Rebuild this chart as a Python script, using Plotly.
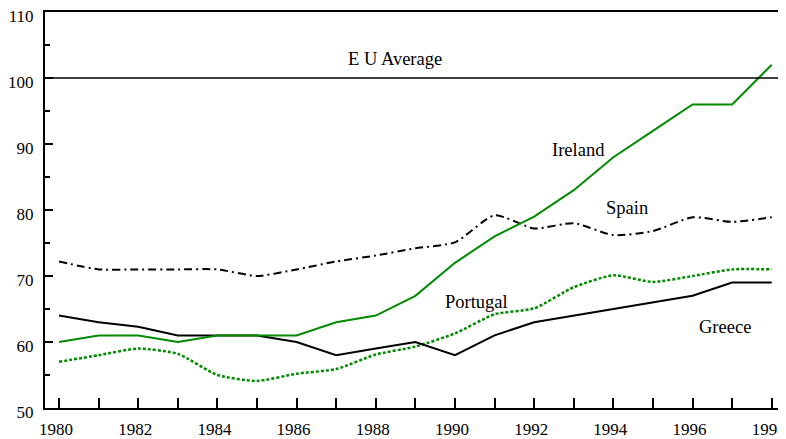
import plotly.graph_objects as go

years = list(range(1980, 1999))
ireland = [60, 61, 61, 60, 61, 61, 61, 63, 64, 67, 72, 76, 79, 83, 88, 92, 96, 96, 102]
greece = [64, 63, 62.3, 61, 61, 61, 60, 58, 59, 60, 58, 61, 63, 64, 65, 66, 67, 69, 69]
spain = [72.2, 71, 71, 71, 71, 70, 71, 72.2, 73.1, 74.2, 75.1, 79.2, 77.2, 78, 76.2, 76.8, 78.9, 78.2, 78.9]
portugal = [57, 58, 59, 58.2, 55, 54.1, 55.2, 55.9, 58.1, 59.3, 61.3, 64.2, 65.1, 68.3, 70.1, 69.1, 70, 71, 71]
eu_average = 100

labels = [
    ("E U Average", 1988.49, 102.9),
    ("Ireland", 1993.11, 89.1),
    ("Spain", 1994.34, 80.3),
    ("Portugal", 1990.55, 66.1),
    ("Greece", 1996.82, 62.3),
]

GREEN = "#008a00"
FONT = "Liberation Serif"

fig = go.Figure()
fig.add_trace(go.Scatter(x=years, y=spain, mode="lines",
                         line=dict(color="black", width=2, dash="8px,4px,2px,4px", shape="spline", smoothing=0.6)))
fig.add_trace(go.Scatter(x=years, y=portugal, mode="lines",
                         line=dict(color=GREEN, width=2.5, dash="3px,2px", shape="spline", smoothing=0.6)))
fig.add_trace(go.Scatter(x=years, y=greece, mode="lines", line=dict(color="black", width=2)))
fig.add_trace(go.Scatter(x=years, y=ireland, mode="lines", line=dict(color=GREEN, width=2)))

fig.add_shape(type="line", xref="paper", x0=0, x1=1, yref="y", y0=eu_average, y1=eu_average,
              line=dict(color="black", width=1.5))

for text, x, y in labels:
    fig.add_annotation(x=x, y=y, text=text, showarrow=False,
                       font=dict(family=FONT, size=18.5, color="black"))

# page body has an 8px margin: figure is drawn from (8, 8)
fig.update_layout(
    width=778, height=431,
    margin=dict(l=37, r=2, t=4, b=31, autoexpand=False),
    paper_bgcolor="white", plot_bgcolor="white",
    showlegend=False,
    font=dict(family=FONT, size=17, color="black"),
)
fig.update_xaxes(range=[1979.646, 1998.31], tickmode="array", tickvals=years,
                 ticktext=[str(y) if y % 2 == 0 else "" for y in years],
                 ticks="inside", ticklen=10, tickwidth=2, tickcolor="black",
                 showline=True, linewidth=2, linecolor="black", mirror=True,
                 showgrid=False, zeroline=False, ticklabelstandoff=5, ticklabelshift=-3,
                 automargin=False, ticklabeloverflow="allow",
                 tickfont=dict(family=FONT, size=17))
fig.update_yaxes(range=[50, 110], tickmode="array", tickvals=[50, 60, 70, 80, 90, 100, 110],
                 ticks="inside", ticklen=8, tickwidth=2, tickcolor="black",
                 minor=dict(tickvals=[55, 65, 75, 85, 95, 105], ticks="inside", ticklen=5,
                            tickwidth=2, tickcolor="black", showgrid=False),
                 showline=True, linewidth=2, linecolor="black", mirror=True,
                 showgrid=False, zeroline=False, ticklabelstandoff=6, ticklabelshift=4,
                 automargin=False, ticklabeloverflow="allow",
                 tickfont=dict(family=FONT, size=17))

fig.write_html("out.html")
